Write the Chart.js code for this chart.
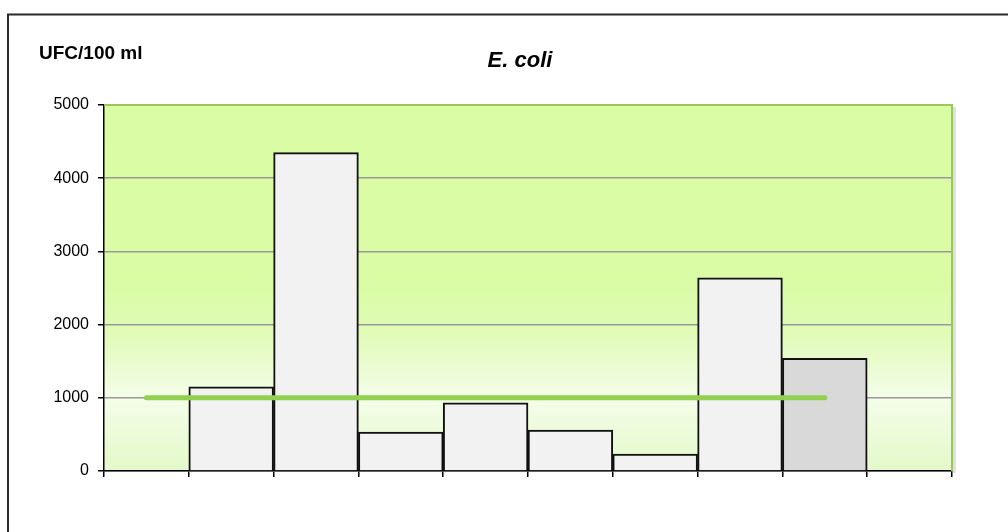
<!DOCTYPE html>
<html>
<head>
<meta charset="utf-8">
<script src="https://cdn.jsdelivr.net/npm/chart.js@4/dist/chart.umd.min.js"></script>
<style>
  html, body { margin: 0; padding: 0; background: #fff; }
  #wrap { width: 1008px; height: 532px; position: relative; }
</style>
</head>
<body>
<div id="wrap"><canvas id="chart" width="1008" height="532"></canvas></div>
<script>
// Datos (lectura aproximada del gráfico)
const categories = ["", "", "", "", "", "", "", "", "", ""];
const ecoliValues = [null, 1150, 4350, 530, 930, 560, 230, 2640, 1540, null];
const limitValues = [1000, 1000, 1000, 1000, 1000, 1000, 1000, 1000, 1000, null];
const barColors = ["#f2f2f2", "#f2f2f2", "#f2f2f2", "#f2f2f2", "#f2f2f2", "#f2f2f2", "#f2f2f2", "#f2f2f2", "#d9d9d9", "#f2f2f2"];
const yTicks = [0, 1000, 2000, 3000, 4000, 5000];

const titleText = "E. coli";
const unitText = "UFC/100 ml";

// Fondo degradado verde del área del gráfico
const plotBackground = {
  id: "plotBackground",
  beforeDraw(chart) {
    const { ctx, chartArea: a } = chart;
    const g = ctx.createLinearGradient(0, a.top, 0, a.bottom);
    g.addColorStop(0, "#d9fda4");
    g.addColorStop(0.5, "#dafca6");
    g.addColorStop(0.62, "#e0fbb6");
    g.addColorStop(0.8, "#f4fde9");
    g.addColorStop(1, "#e4f9c9");
    ctx.save();
    ctx.fillStyle = g;
    ctx.fillRect(a.left, a.top, a.right - a.left, a.bottom - a.top);
    ctx.restore();
  },
  afterDraw(chart) {
    const { ctx, chartArea: a } = chart;
    ctx.save();
    // sombra + borde verde arriba y derecha
    ctx.strokeStyle = "rgba(0,0,0,0.12)";
    ctx.lineWidth = 3;
    ctx.beginPath();
    ctx.moveTo(a.right + 2.5, a.top + 2);
    ctx.lineTo(a.right + 2.5, a.bottom + 2);
    ctx.stroke();
    ctx.strokeStyle = "#9cc65c";
    ctx.lineWidth = 2;
    ctx.beginPath();
    ctx.moveTo(a.left, a.top);
    ctx.lineTo(a.right, a.top);
    ctx.lineTo(a.right, a.bottom);
    ctx.stroke();

    // marco exterior
    ctx.strokeStyle = "#2a2a2a";
    ctx.lineWidth = 2;
    ctx.strokeRect(8, 14.5, 1100, 600);

    // textos
    ctx.fillStyle = "#000";
    ctx.font = "bold italic 22px 'Liberation Sans', Arial, sans-serif";
    ctx.textAlign = "center";
    ctx.textBaseline = "alphabetic";
    ctx.fillText(titleText, 520, 67);
    ctx.font = "bold 19px 'Liberation Sans', Arial, sans-serif";
    ctx.textAlign = "left";
    ctx.fillText(unitText, 39, 59);
    ctx.restore();
  }
};

const ctx = document.getElementById("chart").getContext("2d");

new Chart(ctx, {
  type: "bar",
  data: {
    labels: categories,
    datasets: [
      {
        type: "line",
        label: "Límite",
        data: limitValues,
        borderColor: "#92d050",
        borderWidth: 5,
        borderCapStyle: "round",
        pointRadius: 0,
        fill: false,
        order: 0,
      },
      {
        label: "E. coli",
        data: ecoliValues,
        backgroundColor: barColors,
        borderColor: "#111",
        borderWidth: 2,
        categoryPercentage: 1,
        barPercentage: 1,
        order: 1,
      },
    ],
  },
  plugins: [plotBackground],
  options: {
    responsive: false,
    animation: false,
    layout: { padding: { left: 0, right: 56, top: 105, bottom: 31 } },
    plugins: {
      legend: { display: false },
      tooltip: { enabled: false },
      title: { display: false },
    },
    scales: {
      x: {
        offset: true,
        grid: { offset: true, drawOnChartArea: false, color: "#000", tickLength: 6, lineWidth: 1.5 },
        border: { color: "#000", width: 1.5 },
        ticks: { display: true },
        afterFit: (s) => { s.height = 30; },
      },
      y: {
        min: 0,
        max: 5000,
        afterBuildTicks: (s) => { s.ticks = yTicks.map((v) => ({ value: v })); },
        grid: { color: "#999", lineWidth: 1.5, tickLength: 6, tickColor: "#000" },
        border: { color: "#000", width: 1.5 },
        ticks: {
          color: "#000",
          padding: 9,
          font: { family: "'Liberation Sans', Arial, sans-serif", size: 16 },
          callback: (v) => String(v),
        },
        afterFit: (s) => { s.width = 104; },
      },
    },
  },
});
</script>
</body>
</html>
